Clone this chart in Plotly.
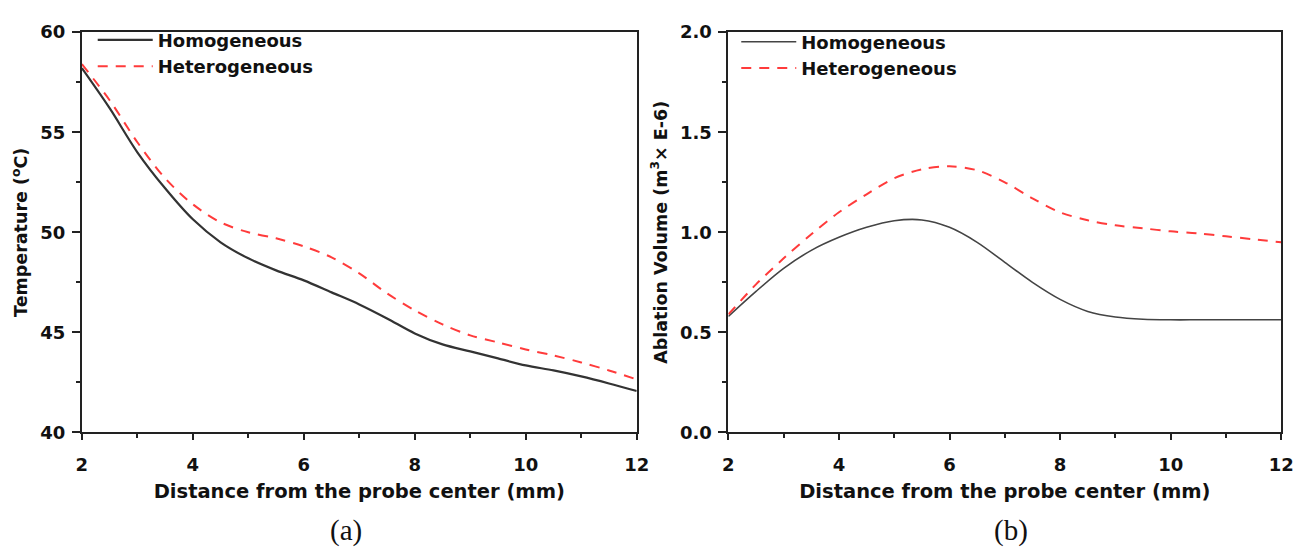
import plotly.graph_objects as go

# Distance from the probe center (mm)
distance = [2, 2.5, 3, 3.5, 4, 4.5, 5, 5.5, 6, 6.5, 7, 7.5, 8, 8.5, 9, 9.5, 10, 10.5, 11, 11.5, 12]

# (a) Temperature (°C)
temp_homogeneous = [58.2, 56.2, 54.0, 52.2, 50.65, 49.5, 48.7, 48.1, 47.6, 47.0, 46.4, 45.7, 44.95,
                    44.4, 44.05, 43.7, 43.35, 43.1, 42.8, 42.45, 42.07]
temp_heterogeneous = [58.4, 56.6, 54.5, 52.7, 51.4, 50.5, 50.0, 49.7, 49.3, 48.75, 47.95, 46.95, 46.1,
                      45.4, 44.85, 44.5, 44.15, 43.85, 43.5, 43.1, 42.65]

# (b) Ablation volume (m^3 x E-6)
vol_homogeneous = [0.58, 0.705, 0.82, 0.91, 0.975, 1.025, 1.058, 1.062, 1.025, 0.95, 0.85, 0.75, 0.665,
                   0.605, 0.577, 0.566, 0.563, 0.563, 0.563, 0.563, 0.563]
vol_heterogeneous = [0.59, 0.74, 0.87, 0.99, 1.10, 1.19, 1.27, 1.315, 1.33, 1.31, 1.25, 1.17, 1.10,
                     1.06, 1.035, 1.02, 1.005, 0.995, 0.98, 0.965, 0.95]

x_ticks = [2, 4, 6, 8, 10, 12]
temp_ticks = [40, 45, 50, 55, 60]
vol_ticks = [0.0, 0.5, 1.0, 1.5, 2.0]
vol_tick_text = ["0.0", "0.5", "1.0", "1.5", "2.0"]

SANS = "DejaVu Sans, Verdana, sans-serif"
SERIF = "Liberation Serif, Times New Roman, serif"
BLACK_LINE = "#333333"
RED_LINE = "#ff3b3b"
INK = "#111111"
AXIS = "#222222"

fig = go.Figure()

fig.add_trace(go.Scatter(x=distance, y=temp_homogeneous, name="Homogeneous", mode="lines",
                         line=dict(color=BLACK_LINE, width=2.2, shape="spline", smoothing=0.9),
                         xaxis="x", yaxis="y", legend="legend"))
fig.add_trace(go.Scatter(x=distance, y=temp_heterogeneous, name="Heterogeneous", mode="lines",
                         line=dict(color=RED_LINE, width=2, dash="10px,8px", shape="spline", smoothing=0.9),
                         xaxis="x", yaxis="y", legend="legend"))
fig.add_trace(go.Scatter(x=distance, y=vol_homogeneous, name="Homogeneous", mode="lines",
                         line=dict(color="#444444", width=1.6, shape="spline", smoothing=0.9),
                         xaxis="x2", yaxis="y2", legend="legend2"))
fig.add_trace(go.Scatter(x=distance, y=vol_heterogeneous, name="Heterogeneous", mode="lines",
                         line=dict(color=RED_LINE, width=2, dash="10px,8px", shape="spline", smoothing=0.9),
                         xaxis="x2", yaxis="y2", legend="legend2"))

W, H = 1311, 557
tick_font = dict(family=SANS, size=18, color=INK, weight="bold")
ytitle_font = dict(family=SANS, size=17.5, color=INK, weight="bold")
xtitle_font = dict(family=SANS, size=19.5, color=INK, weight="bold")
legend_font = dict(family=SANS, size=18, color=INK, weight="bold")

common_x = dict(range=[2, 12], tickvals=x_ticks, ticks="outside", ticklen=6, tickwidth=2,
                tickcolor=AXIS, showline=True, linewidth=2, linecolor=AXIS, mirror=True,
                showgrid=False, zeroline=False, tickfont=tick_font, ticklabelstandoff=9,
                minor=dict(tickvals=[3, 5, 7, 9, 11], ticks="outside", ticklen=4, tickwidth=1.5,
                           tickcolor=AXIS),
                title=dict(text="Distance from the probe center (mm)", font=xtitle_font, standoff=10))

common_y = dict(ticks="outside", ticklen=8, tickwidth=2, tickcolor=AXIS, showline=True,
                linewidth=2, linecolor=AXIS, mirror=True, showgrid=False, zeroline=False,
                tickfont=tick_font, ticklabelstandoff=3, domain=[1 - 438 / H, 1 - 22 / H])

fig.update_layout(
    width=W, height=H,
    margin=dict(l=0, r=0, t=0, b=0),
    paper_bgcolor="white", plot_bgcolor="white",
    xaxis=dict(common_x, domain=[77 / W, 640 / W], anchor="y"),
    yaxis=dict(common_y, anchor="x", range=[40, 60], tickvals=temp_ticks,
               minor=dict(tickvals=[42.5, 47.5, 52.5, 57.5], ticks="outside", ticklen=4,
                          tickwidth=1.5, tickcolor=AXIS),
               title=dict(text="Temperature (<sup>o</sup>C)", font=ytitle_font, standoff=8)),
    xaxis2=dict(common_x, domain=[733 / W, 1294 / W], anchor="y2"),
    yaxis2=dict(common_y, anchor="x2", range=[0, 2], tickvals=vol_ticks, ticktext=vol_tick_text,
                minor=dict(tickvals=[0.25, 0.75, 1.25, 1.75], ticks="outside", ticklen=4,
                           tickwidth=1.5, tickcolor=AXIS),
                title=dict(text="Ablation Volume (m<sup>3</sup>× E-6)", font=ytitle_font, standoff=8)),
    legend=dict(x=88 / W, y=1 - 11 / H, xanchor="left", yanchor="top", bgcolor="rgba(0,0,0,0)",
                font=legend_font, itemwidth=55, tracegroupgap=0),
    legend2=dict(x=741 / W, y=1 - 13 / H, xanchor="left", yanchor="top", bgcolor="rgba(0,0,0,0)",
                 font=legend_font, itemwidth=55, tracegroupgap=0),
    showlegend=True,
    annotations=[
        dict(text="(a)", x=345 / W, y=1 - 540 / H, xref="paper", yref="paper", showarrow=False,
             xanchor="center", yanchor="middle", font=dict(family=SERIF, size=29, color=INK)),
        dict(text="(b)", x=1020 / W, y=1 - 540 / H, xref="paper", yref="paper", showarrow=False,
             xanchor="center", yanchor="middle", font=dict(family=SERIF, size=29, color=INK)),
    ],
)

fig.write_html("out.html")
